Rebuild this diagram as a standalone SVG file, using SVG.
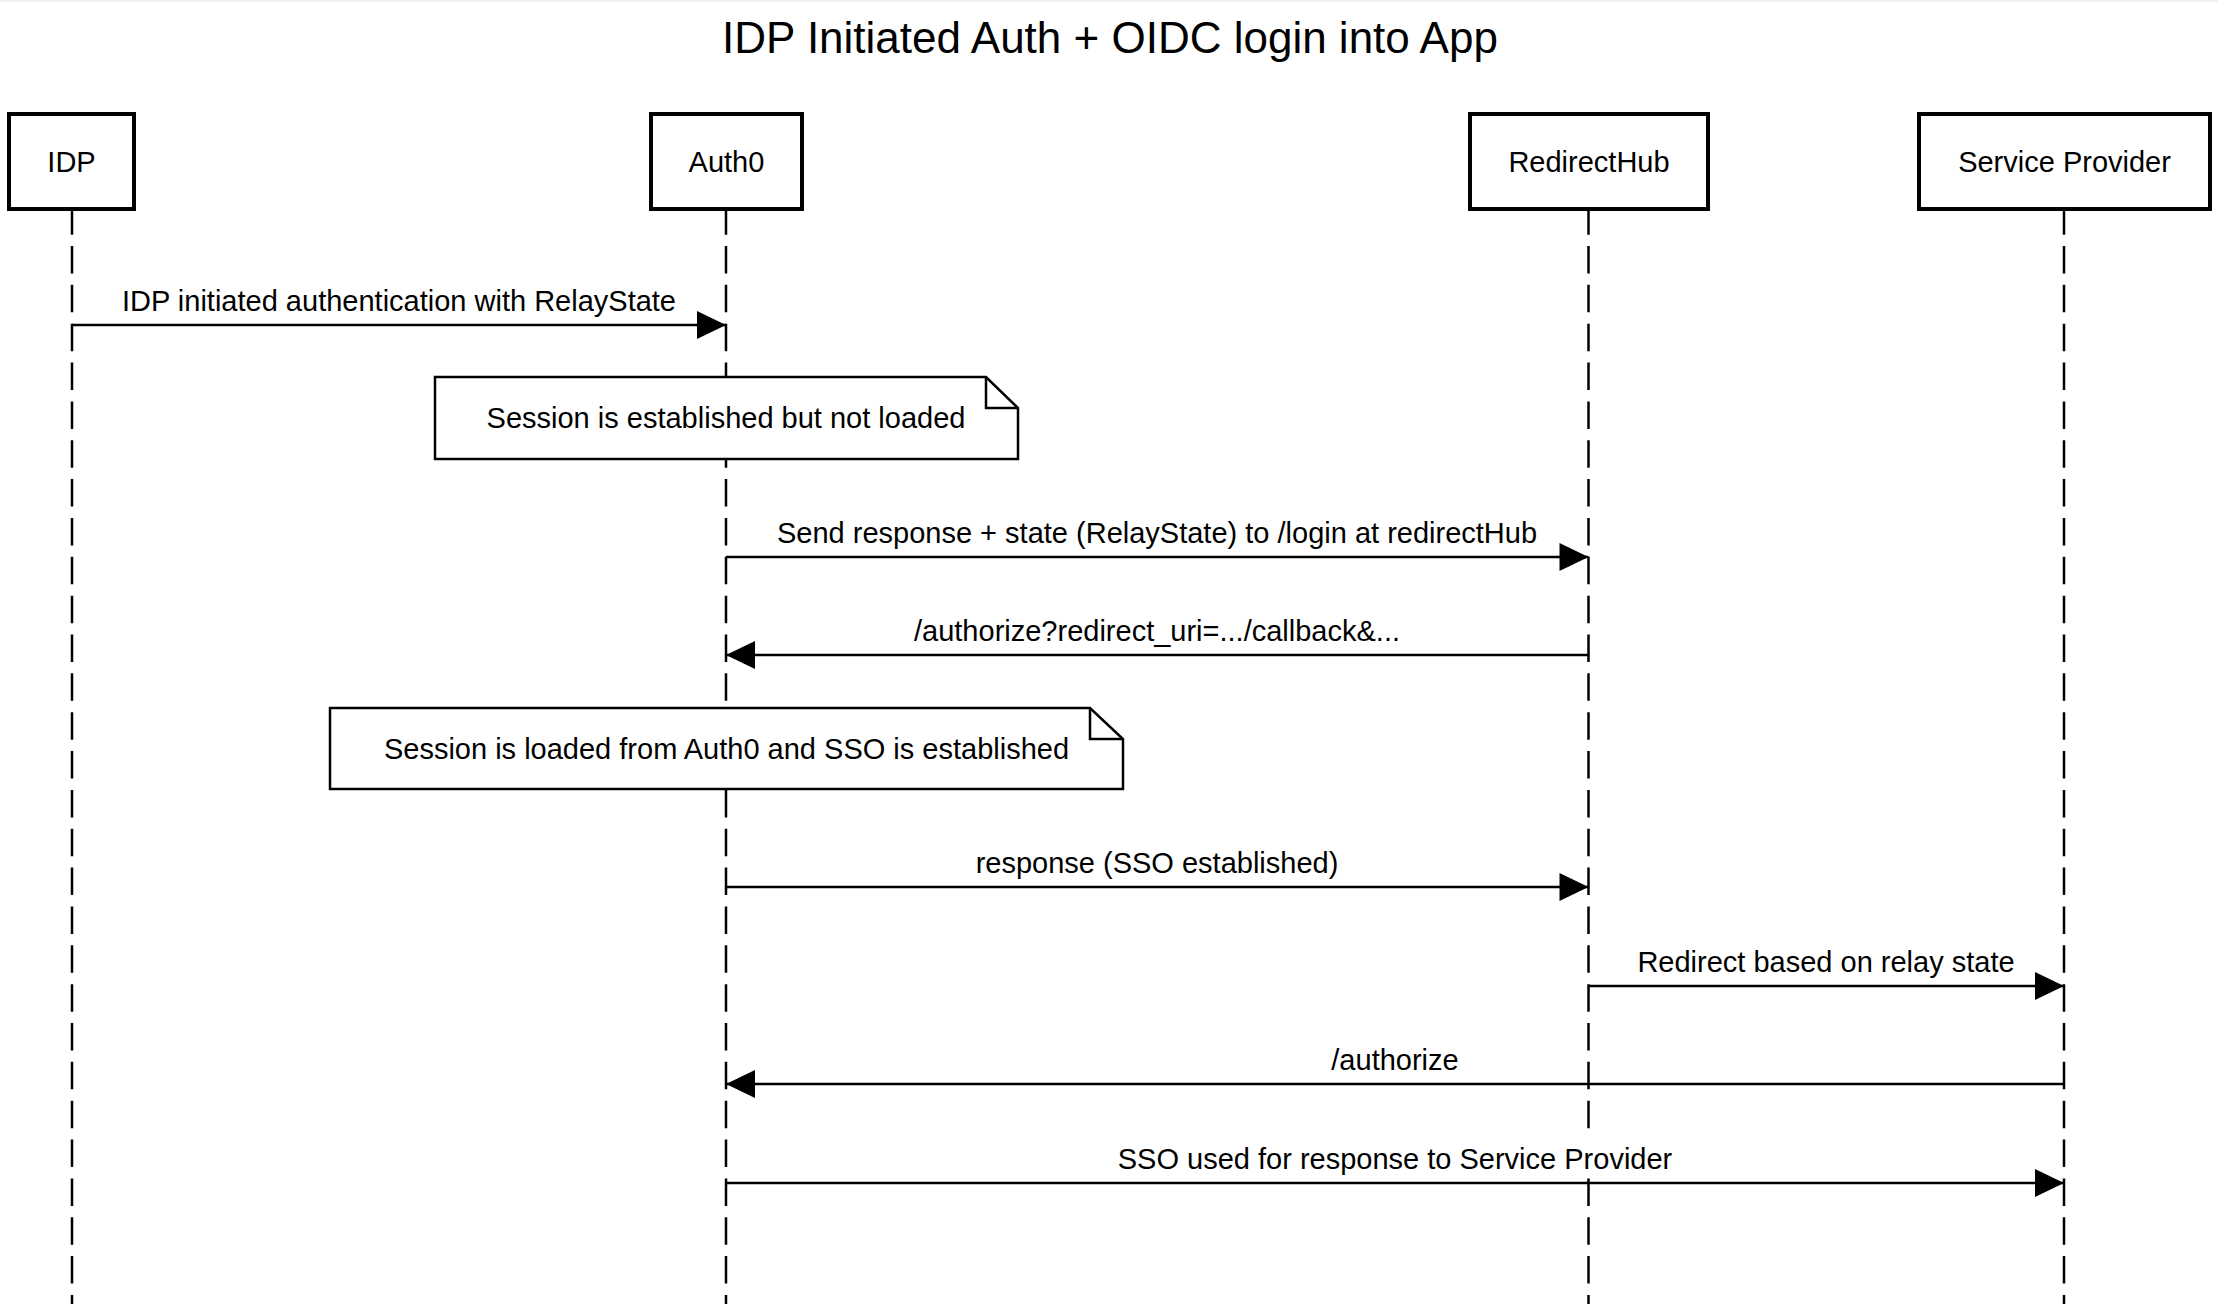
<svg xmlns="http://www.w3.org/2000/svg" width="2218" height="1304" viewBox="0 0 2218 1304">
  <style>
    text { font-family: "Liberation Sans", Arial, Helvetica, sans-serif; fill: #000; text-anchor: middle; }
    .title { font-size: 44px; }
    .lbl { font-size: 29px; }
    .bg { fill: #fff; stroke: none; }
    .box { fill: #fff; stroke: #000; stroke-width: 4; }
    .life { stroke: #000; stroke-width: 2.5; stroke-dasharray: 27.5 11.35; fill: none; }
    .note { fill: #fff; stroke: #000; stroke-width: 2.5; stroke-linejoin: miter; }
    .fold { fill: none; stroke: #000; stroke-width: 2.5; }
    .msg { stroke: #000; stroke-width: 2.5; fill: none; marker-end: url(#arrow); }
  </style>
  <defs>
    <marker id="arrow" markerUnits="userSpaceOnUse" markerWidth="30" markerHeight="28" refX="29" refY="14" orient="auto" overflow="visible">
      <path d="M0,0 L29,14 L0,28 Z" fill="#000"/>
    </marker>
  </defs>
  <rect x="0" y="0" width="2218" height="1304" fill="#fff"/>
  <rect x="0" y="0" width="2218" height="2" fill="#f2f2f2"/>
  <text class="title" x="1110" y="53">IDP Initiated Auth + OIDC login into App</text>

  <g id="lifelines">
    <line class="life" x1="72" y1="207.15" x2="72" y2="1304"/>
    <line class="life" x1="726" y1="207.15" x2="726" y2="1304"/>
    <line class="life" x1="1588.5" y1="207.15" x2="1588.5" y2="1304"/>
    <line class="life" x1="2064" y1="207.15" x2="2064" y2="1304"/>
  </g>

  <g id="idp">
    <rect class="box" x="9" y="114" width="125" height="95"/>
    <text class="lbl" x="71.5" y="172">IDP</text>
  </g>
  <g id="auth0">
    <rect class="box" x="651" y="114" width="151" height="95"/>
    <text class="lbl" x="726.5" y="172">Auth0</text>
  </g>
  <g id="redirecthub">
    <rect class="box" x="1470" y="114" width="238" height="95"/>
    <text class="lbl" x="1589" y="172">RedirectHub</text>
  </g>
  <g id="service-provider">
    <rect class="box" x="1919" y="114" width="291" height="95"/>
    <text class="lbl" x="2064.5" y="172">Service Provider</text>
  </g>

  <g id="note1">
    <path class="note" d="M435,377 H986 L1018,408 V459 H435 Z"/>
    <path class="fold" d="M986,377 V408 H1018"/>
    <text class="lbl" x="726" y="428">Session is established but not loaded</text>
  </g>
  <g id="note2">
    <path class="note" d="M330,708 H1090 L1123,739 V789 H330 Z"/>
    <path class="fold" d="M1090,708 V739 H1123"/>
    <text class="lbl" x="726.5" y="759">Session is loaded from Auth0 and SSO is established</text>
  </g>

  <g id="connectors">
    <line class="msg" x1="72" y1="325" x2="726" y2="325"/>
    <rect class="bg" x="118" y="282" width="562" height="37"/>
    <text class="lbl" x="399" y="311">IDP initiated authentication with RelayState</text>

    <line class="msg" x1="726" y1="557" x2="1588.5" y2="557"/>
    <rect class="bg" x="770" y="514" width="774" height="37"/>
    <text class="lbl" x="1157" y="543">Send response + state (RelayState) to /login at redirectHub</text>

    <line class="msg" x1="1588.5" y1="655" x2="726" y2="655"/>
    <rect class="bg" x="908" y="612" width="498" height="37"/>
    <text class="lbl" x="1157" y="641">/authorize?redirect_uri=.../callback&amp;...</text>

    <line class="msg" x1="726" y1="887" x2="1588.5" y2="887"/>
    <rect class="bg" x="971" y="844" width="372" height="37"/>
    <text class="lbl" x="1157" y="873">response (SSO established)</text>

    <line class="msg" x1="1588.5" y1="986" x2="2064" y2="986"/>
    <rect class="bg" x="1632" y="943" width="388" height="37"/>
    <text class="lbl" x="1826" y="972">Redirect based on relay state</text>

    <line class="msg" x1="2064" y1="1084" x2="726" y2="1084"/>
    <rect class="bg" x="1327" y="1041" width="136" height="37"/>
    <text class="lbl" x="1395" y="1070">/authorize</text>

    <line class="msg" x1="726" y1="1183" x2="2064" y2="1183"/>
    <rect class="bg" x="1115" y="1137" width="560" height="40"/>
    <text class="lbl" x="1395" y="1169">SSO used for response to Service Provider</text>
  </g>
</svg>
